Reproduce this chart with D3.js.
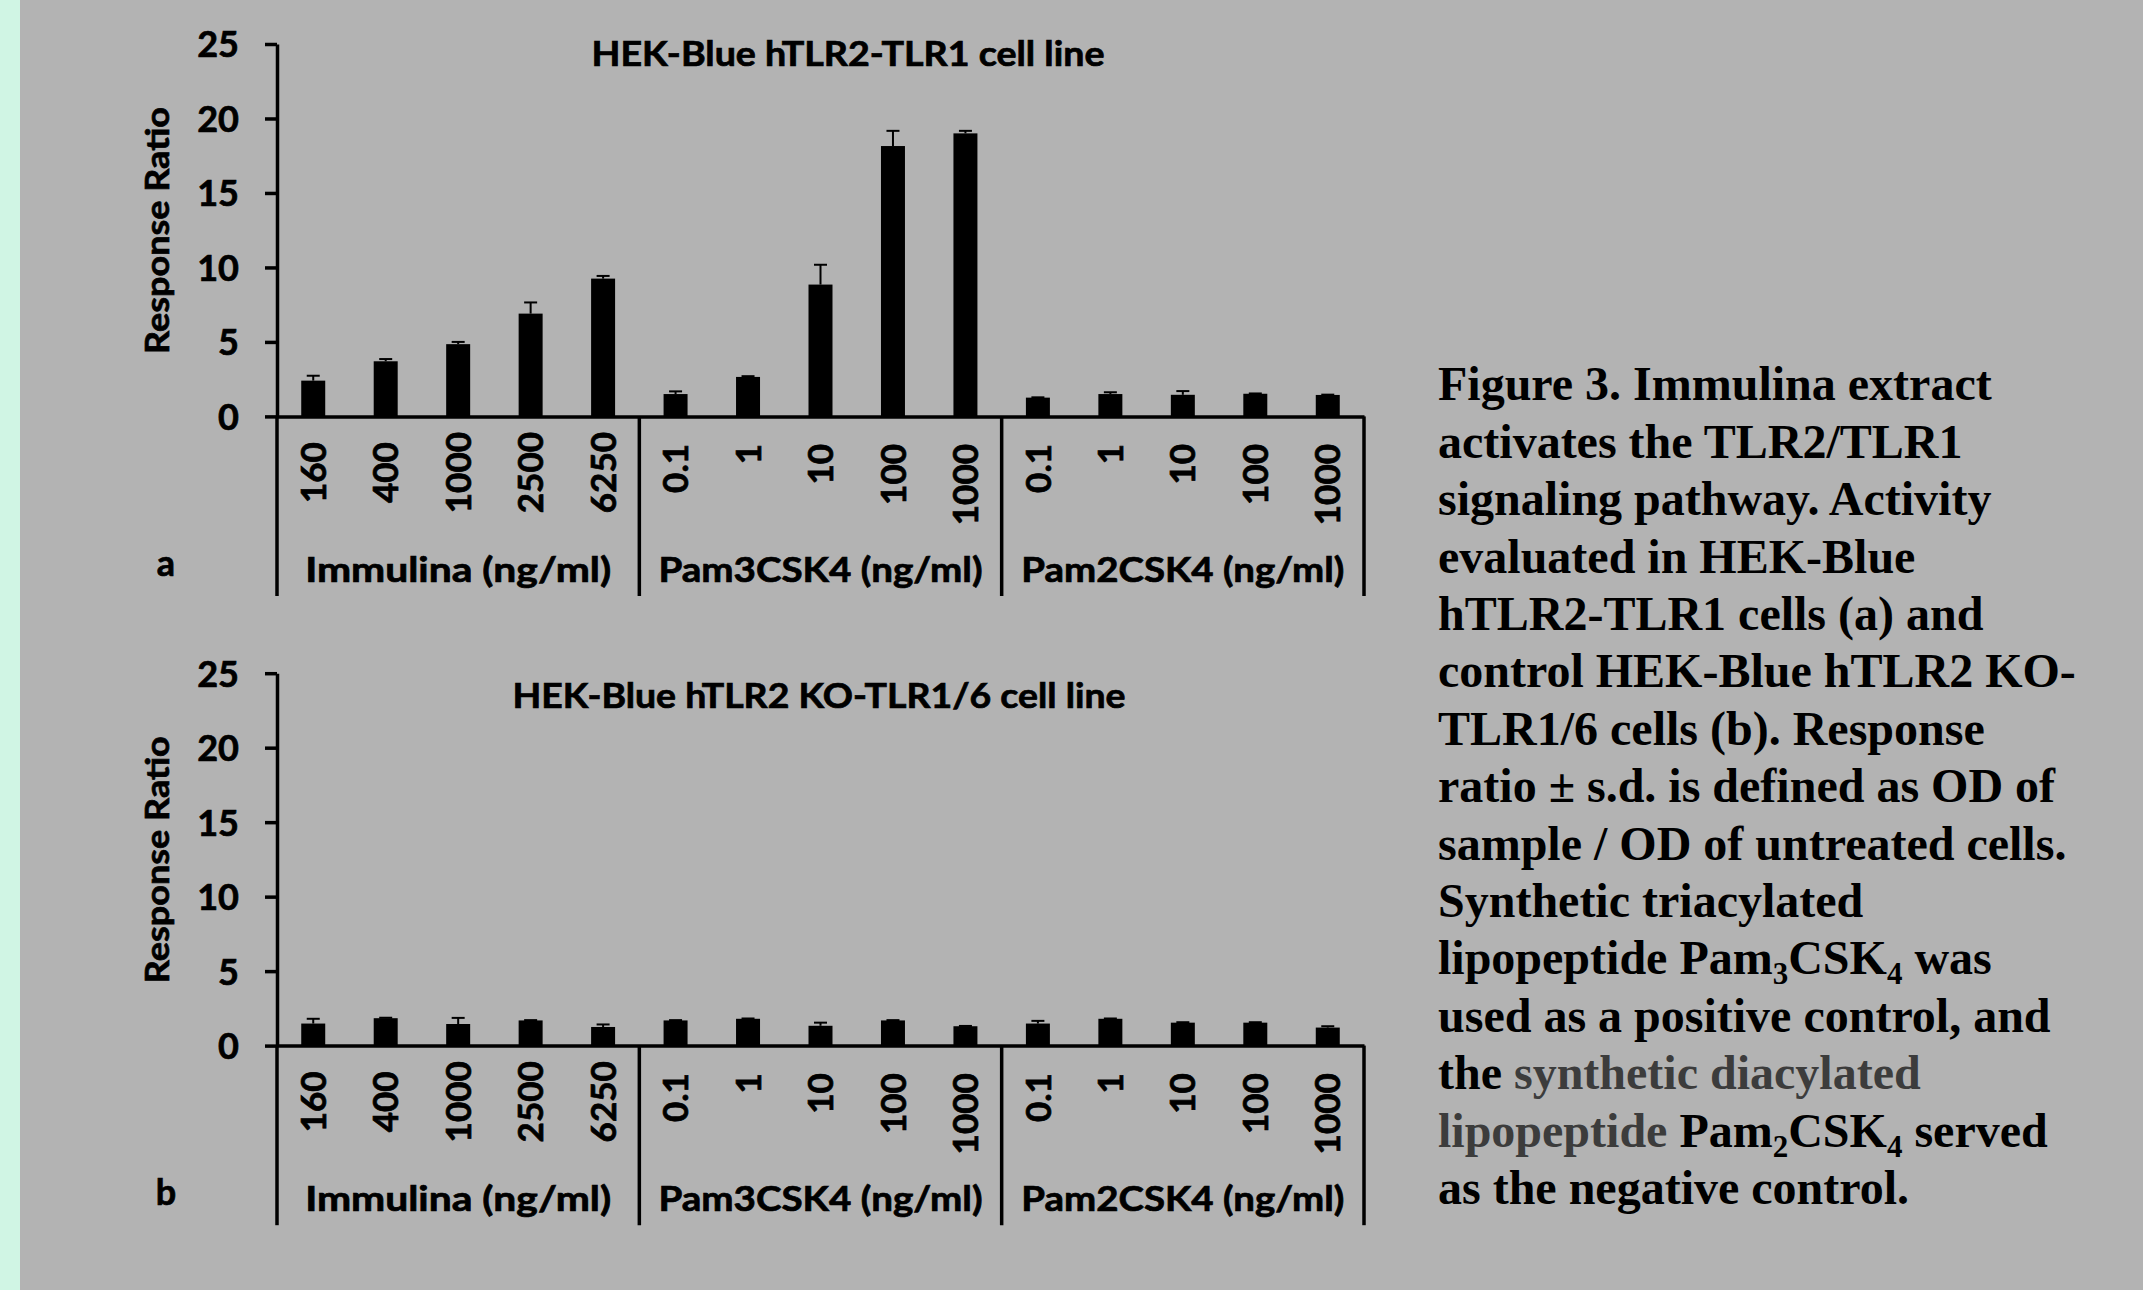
<!DOCTYPE html>
<html>
<head>
<meta charset="utf-8">
<script src="https://cdn.jsdelivr.net/npm/d3@7"></script>
<style>
  html, body { margin: 0; padding: 0; background: #b3b3b3; }
  svg { display: block; }
  .ax text { font-family: Lato, "Open Sans", sans-serif; font-weight: 700; fill: #000; stroke: #000; stroke-width: 0.7px; }
</style>
</head>
<body>
<svg id="chart" width="2143" height="1290"></svg>
<script>
// ---------------- data ----------------
const groups = ["Immulina (ng/ml)", "Pam3CSK4 (ng/ml)", "Pam2CSK4 (ng/ml)"];
const doseLabels = ["160", "400", "1000", "2500", "6250",
                    "0.1", "1", "10", "100", "1000",
                    "0.1", "1", "10", "100", "1000"];
const groupOf = [0,0,0,0,0, 1,1,1,1,1, 2,2,2,2,2];
const yTicks = [0, 5, 10, 15, 20, 25];

const valuesA = [2.4, 3.7, 4.85, 6.9, 9.25,  1.5, 2.65, 8.85, 18.15, 19.0,  1.26, 1.5, 1.45, 1.52, 1.44];
const errorsA = [0.33, 0.15, 0.15, 0.75, 0.18,  0.18, 0.05, 1.33, 1.02, 0.17,  0.02, 0.12, 0.25, 0.02, 0.02];
const valuesB = [1.48, 1.84, 1.45, 1.69, 1.25,  1.69, 1.80, 1.33, 1.69, 1.30,  1.48, 1.80, 1.54, 1.54, 1.21];
const errorsB = [0.32, 0.03, 0.41, 0.02, 0.17,  0.02, 0.02, 0.21, 0.02, 0.02,  0.18, 0.02, 0.03, 0.03, 0.09];

const titleA = "HEK-Blue hTLR2-TLR1 cell line";
const titleB = "HEK-Blue hTLR2 KO-TLR1/6 cell line";
const yLabel = "Response Ratio";

// ---------------- drawing ----------------
const svg = d3.select("#chart");
svg.append("rect").attr("width", 2143).attr("height", 1290).attr("fill", "#b3b3b3");
svg.append("rect").attr("width", 20).attr("height", 1290).attr("fill", "#d0f5e4");

const X0 = 277, X1 = 1364;
const idx = d3.range(doseLabels.length);
const groupLabelWidths = [306, 324, 323];

function panel(offY, values, errors, title, titleX, titleY, titleW, letter) {
  const g = svg.append("g").attr("class", "ax").attr("transform", `translate(0,${offY})`);
  const y = d3.scaleLinear().domain([0, 25]).range([416.4, 44]);
  const x = d3.scaleBand().domain(idx).range([X0, X1]).paddingInner(0.669).paddingOuter(0.3345);
  const gx = d3.scaleLinear().domain([0, groups.length]).range([X0, X1]);
  const axisBottomY = 596;

  // bars
  g.selectAll("rect.bar").data(idx).join("rect")
    .attr("class", "bar")
    .attr("x", i => x(i)).attr("width", x.bandwidth())
    .attr("y", i => y(values[i])).attr("height", i => y(0) - y(values[i]))
    .attr("fill", "#000");

  // error bars (plus only)
  const eb = g.selectAll("g.err").data(idx).join("g").attr("class", "err");
  eb.append("line")
    .attr("x1", i => x(i) + x.bandwidth() / 2).attr("x2", i => x(i) + x.bandwidth() / 2)
    .attr("y1", i => y(values[i])).attr("y2", i => y(values[i] + errors[i]))
    .attr("stroke", "#000").attr("stroke-width", 2);
  eb.append("line")
    .attr("x1", i => x(i) + x.bandwidth() / 2 - 6.5).attr("x2", i => x(i) + x.bandwidth() / 2 + 6.5)
    .attr("y1", i => y(values[i] + errors[i])).attr("y2", i => y(values[i] + errors[i]))
    .attr("stroke", "#000").attr("stroke-width", 2);

  // y axis
  const ya = g.append("g").attr("transform", `translate(${X0},0)`)
    .call(d3.axisLeft(y).tickValues(yTicks).tickSize(12).tickPadding(26).tickSizeOuter(0));
  ya.select(".domain").attr("stroke-width", 3.5);
  ya.selectAll(".tick line").attr("stroke-width", 3.5);
  ya.selectAll(".tick text").style("font-size", "36px").attr("dy", "0.36em");

  // x axis line with rotated dose labels
  const xa = g.append("g").attr("transform", `translate(0,${y(0)})`)
    .call(d3.axisBottom(x).tickSize(0).tickSizeOuter(0).tickFormat(i => doseLabels[i]));
  xa.select(".domain").attr("stroke-width", 3.5);
  xa.selectAll(".tick text")
    .style("font-size", "35px")
    .attr("transform", "rotate(-90)")
    .attr("y", 0).attr("dy", "0.36em")
    .attr("x", i => groupOf[i] === 0 ? -56.2 : -27.6)
    .attr("text-anchor", i => groupOf[i] === 0 ? "middle" : "end");

  // group divider lines (include y-axis extension)
  g.selectAll("line.div").data(d3.range(groups.length + 1)).join("line")
    .attr("class", "div")
    .attr("x1", k => gx(k)).attr("x2", k => gx(k))
    .attr("y1", y(0)).attr("y2", axisBottomY)
    .attr("stroke", "#000").attr("stroke-width", 3.5);

  // group labels
  g.selectAll("text.grp").data(groups).join("text")
    .attr("class", "grp")
    .attr("x", (d, k) => (gx(k) + gx(k + 1)) / 2)
    .attr("y", 581.7)
    .attr("text-anchor", "middle")
    .attr("textLength", (d, k) => groupLabelWidths[k])
    .attr("lengthAdjust", "spacingAndGlyphs")
    .style("font-size", "34px")
    .text(d => d);

  // title
  g.append("text").attr("x", titleX).attr("y", titleY).attr("text-anchor", "middle")
    .attr("textLength", titleW).attr("lengthAdjust", "spacingAndGlyphs")
    .style("font-size", "34px").text(title);

  // y label
  g.append("text")
    .attr("transform", `translate(169,230.5) rotate(-90)`)
    .attr("text-anchor", "middle")
    .attr("textLength", 247).attr("lengthAdjust", "spacingAndGlyphs")
    .style("font-size", "33px")
    .text(yLabel);

  // panel letter
  g.append("text").attr("x", 166).attr("y", 576).attr("text-anchor", "middle")
    .style("font-size", "36px").text(letter);
}

panel(0, valuesA, errorsA, titleA, 848, 66, 513, "a");
panel(629.2, valuesB, errorsB, titleB, 819, 78.6, 613, "b");

// ---------------- caption ----------------
const grey = "#3c3c3c";
const captionLines = [
  [["Figure 3. Immulina extract"]],
  [["activates the TLR2/TLR1"]],
  [["signaling pathway. Activity"]],
  [["evaluated in HEK-Blue"]],
  [["hTLR2-TLR1 cells (a) and"]],
  [["control HEK-Blue hTLR2 KO-"]],
  [["TLR1/6 cells (b). Response"]],
  [["ratio \u00B1 s.d. is defined as OD of"]],
  [["sample / OD of untreated cells."]],
  [["Synthetic triacylated"]],
  [["lipopeptide Pam"], ["3", "sub"], ["CSK"], ["4", "sub"], [" was"]],
  [["used as a positive control, and"]],
  [["the "], ["synthetic diacylated", "grey"]],
  [["lipopeptide", "grey"], [" Pam"], ["2", "sub"], ["CSK"], ["4", "sub"], [" served"]],
  [["as the negative control."]]
];
const cap = svg.append("text")
  .attr("x", 1438).attr("y", 400.3)
  .style("font-family", "'Liberation Serif', 'Times New Roman', serif")
  .style("font-weight", "700")
  .style("font-size", "48px")
  .attr("fill", "#000");
captionLines.forEach((segs, li) => {
  const lineY = 400.3 + li * 57.4;
  segs.forEach((s, si) => {
    const t = cap.append("tspan").text(s[0]);
    if (si === 0) t.attr("x", 1438);
    if (s[1] === "sub") {
      t.attr("y", lineY + 10).style("font-size", "31px");
    } else {
      t.attr("y", lineY);
    }
    if (s[1] === "grey") t.attr("fill", grey);
  });
});
</script>
</body>
</html>
